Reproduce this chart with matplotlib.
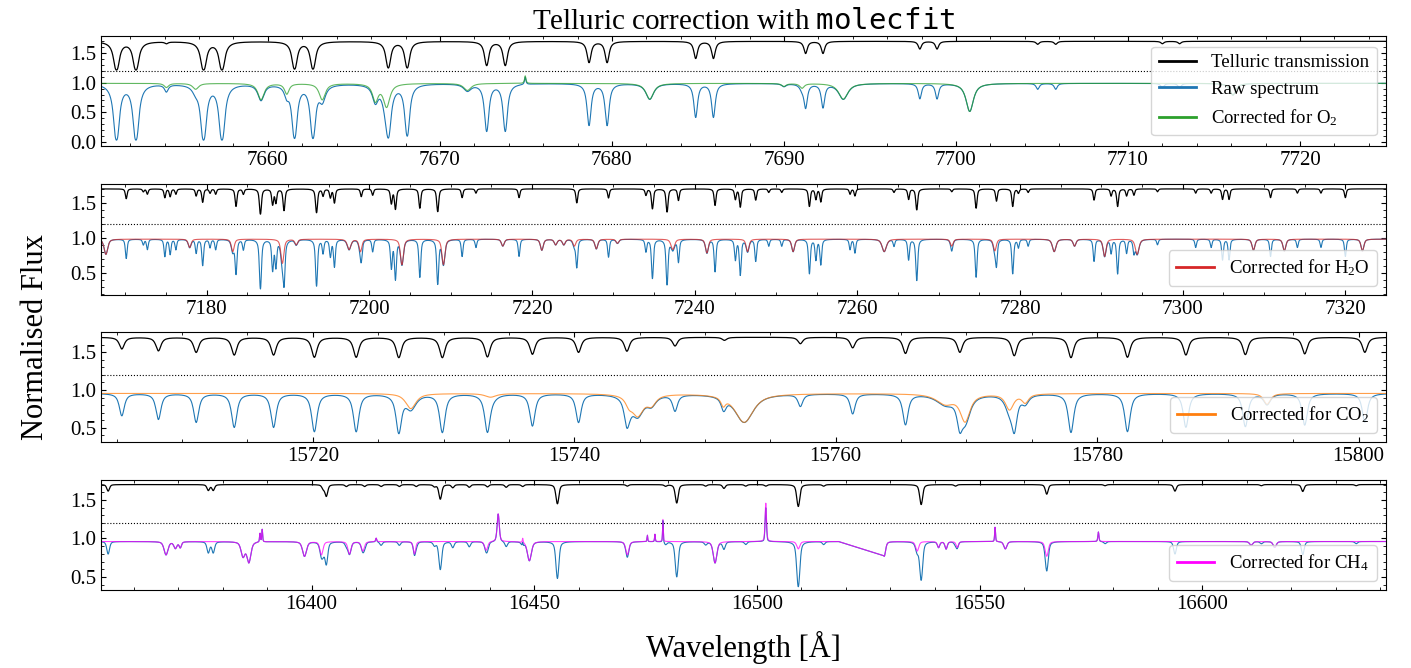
import numpy as np
import matplotlib
matplotlib.use("Agg")
import matplotlib.pyplot as plt

# ---------------------------------------------------------------------------
# Line lists (centre in Angstrom, fractional depth)
# ---------------------------------------------------------------------------

# O2 A-band panel
o2_range = (7650.3, 7725.0)
o2_continuum = 0.99
o2_tel_wl = [7651.2, 7652.33, 7654.1, 7656.26, 7657.33, 7661.55, 7662.62, 7667.0, 7668.1,
             7672.72, 7673.8, 7678.67, 7679.72, 7684.87, 7685.9, 7691.26, 7692.27,
             7697.9, 7698.9, 7704.75, 7705.8, 7712.0, 7713.0]
o2_tel_depth = [0.97, 0.97, 0.06, 0.97, 0.97, 0.94, 0.94, 0.9, 0.9,
                0.82, 0.82, 0.72, 0.72, 0.58, 0.58, 0.41, 0.41,
                0.26, 0.26, 0.1, 0.1, 0.08, 0.08]
o2_star_wl = [7654.1, 7655.8, 7659.6, 7661.1, 7663.16, 7666.25, 7666.9, 7671.6, 7674.96,
              7682.2, 7690.0, 7691.05, 7693.45, 7700.8, 7716.1]
o2_star_depth = [0.07, 0.1, 0.28, 0.18, 0.28, 0.3, 0.4, 0.12, -0.13,
                 0.27, 0.05, 0.08, 0.27, 0.48, 0.2]
o2_star_width = [0.15, 0.2, 0.2, 0.15, 0.2, 0.18, 0.2, 0.25, 0.05,
                 0.25, 0.15, 0.15, 0.3, 0.22, 0.2]

# H2O panel
h2o_range = (7167.0, 7325.0)
h2o_continuum = 0.985
h2o_tel_wl = [7170.1, 7172.2, 7172.7, 7174.85, 7175.5, 7176.2, 7178.7, 7179.5, 7180.4, 7181.1,
              7183.6, 7184.5, 7186.6, 7188.1, 7188.5, 7189.5, 7193.5, 7194.3, 7195.2, 7195.7,
              7199.0, 7200.4, 7202.7, 7203.2, 7206.2, 7208.4, 7211.4, 7213.1, 7218.4,
              7225.5, 7229.4, 7234.0, 7234.8, 7236.6, 7238.0, 7242.5, 7245.0, 7245.6,
              7247.5, 7249.1, 7250.7, 7254.1, 7254.9, 7255.5, 7259.1, 7259.7, 7264.5,
              7266.3, 7267.3, 7271.6, 7274.6, 7277.1, 7279.1, 7279.8, 7281.0, 7289.1,
              7291.2, 7292.0, 7293.1, 7294.0, 7296.9, 7301.6, 7303.5, 7304.9, 7305.7,
              7310.8, 7314.1, 7317.0, 7320.0]
h2o_tel_depth = [0.28, 0.08, 0.15, 0.25, 0.22, 0.15, 0.2, 0.38, 0.12, 0.15,
                 0.5, 0.15, 0.72, 0.45, 0.4, 0.62, 0.68, 0.2, 0.25, 0.4,
                 0.22, 0.18, 0.42, 0.58, 0.55, 0.65, 0.25, 0.12, 0.25,
                 0.4, 0.26, 0.18, 0.57, 0.66, 0.33, 0.47, 0.3, 0.52,
                 0.32, 0.1, 0.1, 0.5, 0.3, 0.37, 0.15, 0.2, 0.1,
                 0.3, 0.6, 0.08, 0.55, 0.35, 0.5, 0.12, 0.1, 0.32,
                 0.2, 0.5, 0.2, 0.18, 0.08, 0.12, 0.12, 0.3, 0.3,
                 0.25, 0.12, 0.12, 0.25]
h2o_star_wl = [7167.6, 7177.9, 7183.2, 7189.3, 7191.0, 7197.5, 7198.9, 7204.0, 7209.1,
               7216.4, 7221.2, 7222.9, 7223.9, 7225.2, 7227.9, 7230.5, 7237.3, 7241.5,
               7246.5, 7252.1, 7263.3, 7271.6, 7276.9, 7284.2, 7286.7, 7290.4, 7294.4,
               7308.7, 7312.5, 7322.1]
h2o_star_depth = [0.22, 0.12, 0.18, 0.35, 0.08, 0.15, 0.18, 0.37, 0.37,
                  0.1, 0.16, 0.08, 0.08, 0.1, 0.14, 0.06, 0.15, 0.2,
                  0.18, 0.18, 0.18, 0.1, 0.17, 0.18, 0.1, 0.25, 0.22,
                  0.16, 0.17, 0.17]
h2o_star_width = [0.25, 0.2, 0.2, 0.2, 0.2, 0.25, 0.2, 0.2, 0.2,
                  0.2, 0.2, 0.2, 0.2, 0.2, 0.2, 0.2, 0.25, 0.2,
                  0.2, 0.2, 0.3, 0.2, 0.2, 0.25, 0.2, 0.2, 0.25,
                  0.2, 0.2, 0.2]

# CO2 panel
co2_range = (15703.8, 15802.1)
co2_continuum = 0.955
co2_tel_wl = [15705.39, 15708.19, 15711.08, 15713.99, 15717.0, 15720.12, 15723.32, 15726.58,
              15729.91, 15733.36, 15736.8, 15740.33, 15744.03, 15747.71, 15751.49, 15757.3,
              15761.3, 15765.34, 15769.5, 15773.66, 15778.0, 15782.32, 15786.79, 15791.34,
              15795.88, 15800.48]
co2_tel_depth = [0.31, 0.36, 0.40, 0.47, 0.47, 0.53, 0.53, 0.54,
                 0.54, 0.52, 0.45, 0.40, 0.37, 0.23, 0.08, 0.17,
                 0.28, 0.43, 0.40, 0.49, 0.54, 0.53, 0.47, 0.46,
                 0.44, 0.40]
co2_star_wl = [15727.5, 15733.6, 15744.2, 15744.85, 15745.9, 15751.4, 15753.0, 15768.4,
               15769.9, 15773.3, 15774.5, 15793.0]
co2_star_depth = [0.21, 0.05, 0.12, 0.3, 0.14, 0.12, 0.4, 0.14,
                  0.38, 0.22, 0.12, 0.15]
co2_star_width = [0.45, 0.5, 0.3, 0.5, 0.4, 0.2, 0.75, 0.8,
                  0.4, 0.35, 0.3, 0.3]

# CH4 panel
ch4_range = (16352.7, 16641.3)
ch4_continuum = 0.96
ch4_gap = (16518.4, 16528.5)
ch4_tel_wl = [16354.3, 16376.8, 16377.9, 16402.6, 16403.3, 16407.8, 16411.9, 16415.6, 16419.7,
              16423.5, 16427.6, 16428.9, 16431.7, 16435.4, 16439.5, 16443.7, 16447.4, 16455.2,
              16470.9, 16479.5, 16482.0, 16488.5, 16492.6, 16497.5, 16502.0, 16509.3, 16515.0,
              16536.9, 16544.6, 16565.1, 16578.2, 16593.9, 16613.3, 16622.6, 16634.6]
ch4_tel_depth = [0.17, 0.15, 0.15, 0.1, 0.3, 0.05, 0.05, 0.05, 0.05,
                 0.05, 0.05, 0.38, 0.08, 0.07, 0.06, 0.07, 0.05, 0.5,
                 0.04, 0.04, 0.48, 0.04, 0.1, 0.04, 0.04, 0.57, 0.04,
                 0.52, 0.04, 0.25, 0.03, 0.17, 0.03, 0.18, 0.03]
ch4_star_wl = [16367.3, 16369.4, 16370.5, 16384.6, 16385.9, 16388.4, 16388.9, 16398.4, 16402.2,
               16408.5, 16411.5, 16414.5, 16423.1, 16439.2, 16441.9, 16447.4, 16448.9, 16470.9,
               16475.4, 16477.1, 16478.9, 16490.6, 16502.0, 16509.3, 16528.6, 16536.0, 16540.8,
               16542.5, 16545.0, 16553.5, 16555.8, 16565.1, 16576.7, 16611.0, 16616.3]
ch4_star_depth = [0.18, 0.09, 0.08, 0.2, 0.28, -0.12, -0.17, 0.2, 0.18,
                  0.17, 0.13, -0.05, 0.17, 0.12, -0.38, -0.06, 0.26, 0.18,
                  -0.09, -0.1, -0.3, 0.29, -0.52, 0.1, 0.2, 0.13, 0.08,
                  0.1, 0.08, -0.2, 0.1, 0.2, -0.13, 0.05, 0.08]
ch4_star_width = [0.5, 0.4, 0.3, 0.5, 0.5, 0.12, 0.12, 0.5, 0.4,
                  0.4, 0.4, 0.15, 0.3, 0.4, 0.3, 0.1, 0.5, 0.4,
                  0.1, 0.1, 0.1, 0.45, 0.2, 0.4, 0.35, 0.4, 0.3,
                  0.3, 0.3, 0.12, 0.4, 0.4, 0.15, 0.4, 0.4]

corrected_labels = ["Corrected for O$_2$", "Corrected for H$_2$O",
                    "Corrected for CO$_2$", "Corrected for CH$_4$"]


def profile(x, centre, hwhm, eta):
    u = (x - centre) / hwhm
    return eta / (1 + u ** 2) + (1 - eta) * np.exp(-np.log(2) * u ** 2)


def transmission(x, centres, depths, widths, eta):
    # sum optical depths so strong lines saturate like real ones
    tau = np.zeros_like(x)
    for c, d, w in zip(centres, depths, widths):
        tau += -np.log(1 - d) * profile(x, c, w, eta)
    return np.exp(-tau)


plt.rcParams["font.family"] = "serif"
plt.rcParams["font.serif"] = ["Liberation Serif", "DejaVu Serif"]
plt.rcParams["mathtext.fontset"] = "custom"
plt.rcParams["mathtext.rm"] = "Liberation Serif"
plt.rcParams["mathtext.it"] = "Liberation Serif:italic"
plt.rcParams["mathtext.tt"] = "DejaVu Sans Mono"
plt.rcParams["xtick.direction"] = "in"
plt.rcParams["ytick.direction"] = "in"
plt.rcParams["xtick.top"] = True
plt.rcParams["ytick.right"] = True
plt.rcParams["xtick.minor.visible"] = True
plt.rcParams["ytick.minor.visible"] = True
plt.rcParams["xtick.labelsize"] = 15
plt.rcParams["ytick.labelsize"] = 15

panels = [
    dict(rng=o2_range, step=0.02, cont=o2_continuum, tel=(o2_tel_wl, o2_tel_depth), tel_w=0.105,
         star=(o2_star_wl, o2_star_depth, o2_star_width), eta=0.9, colour="tab:green",
         ylim=(-0.07, 1.79), box=(0.7814, 0.1647), gap=None),
    dict(rng=h2o_range, step=0.03, cont=h2o_continuum, tel=(h2o_tel_wl, h2o_tel_depth), tel_w=0.12,
         star=(h2o_star_wl, h2o_star_depth, h2o_star_width), eta=0.6, colour="tab:red",
         ylim=(0.19, 1.77), box=(0.5584, 0.1662), gap=None),
    dict(rng=co2_range, step=0.04, cont=co2_continuum, tel=(co2_tel_wl, co2_tel_depth), tel_w=0.21,
         star=(co2_star_wl, co2_star_depth, co2_star_width), eta=0.85, colour="tab:orange",
         ylim=(0.31, 1.77), box=(0.3383, 0.1647), gap=None),
    dict(rng=ch4_range, step=0.06, cont=ch4_continuum, tel=(ch4_tel_wl, ch4_tel_depth), tel_w=0.35,
         star=(ch4_star_wl, ch4_star_depth, ch4_star_width), eta=0.5, colour="magenta",
         ylim=(0.33, 1.76), box=(0.1168, 0.1647), gap=ch4_gap),
]

fig = plt.figure(figsize=(14.11, 6.68), dpi=100)

for i, p in enumerate(panels):
    ax = fig.add_axes([0.0716, p["box"][0], 0.9107, p["box"][1]])
    wl = np.arange(p["rng"][0] - 1, p["rng"][1] + 1, p["step"])
    tel_wl, tel_d = p["tel"]
    T = transmission(wl, tel_wl, tel_d, [p["tel_w"]] * len(tel_wl), p["eta"])
    S = p["cont"] * transmission(wl, *p["star"], p["eta"])
    raw = S * T

    keep = np.ones_like(wl, dtype=bool)
    if p["gap"] is not None:
        keep = (wl < p["gap"][0]) | (wl >= p["gap"][1])

    ax.plot(wl, 1.2 + 0.5 * T, color="k", lw=0.9, label="Telluric transmission")
    ax.axhline(1.2, color="k", ls=":", lw=0.8)
    ax.plot(wl[keep], raw[keep], color="tab:blue", lw=0.8, label="Raw spectrum")
    lc, = ax.plot(wl[keep], S[keep], color=p["colour"], lw=0.8, alpha=0.75,
                  label=corrected_labels[i])

    ax.set_xlim(*p["rng"])
    ax.set_ylim(*p["ylim"])
    ax.set_yticks([0.0, 0.5, 1.0, 1.5] if i == 0 else [0.5, 1.0, 1.5])

    if i == 0:
        leg = ax.legend(loc="center right", fontsize=13.5)
        ax.set_title(r"Telluric correction with $\mathtt{molecfit}$", fontsize=21, pad=5)
    else:
        leg = ax.legend(handles=[lc], loc="lower right", fontsize=13.5)
    for h in leg.legend_handles:
        h.set_linewidth(2.0)
        h.set_alpha(1.0)

fig.text(0.025, 0.495, "Normalised Flux", rotation=90, ha="center", va="center", fontsize=22)
fig.text(0.5266, 0.03, "Wavelength [Å]", ha="center", va="center", fontsize=22)

fig.savefig("out.png", dpi=100)
plt.close(fig)
